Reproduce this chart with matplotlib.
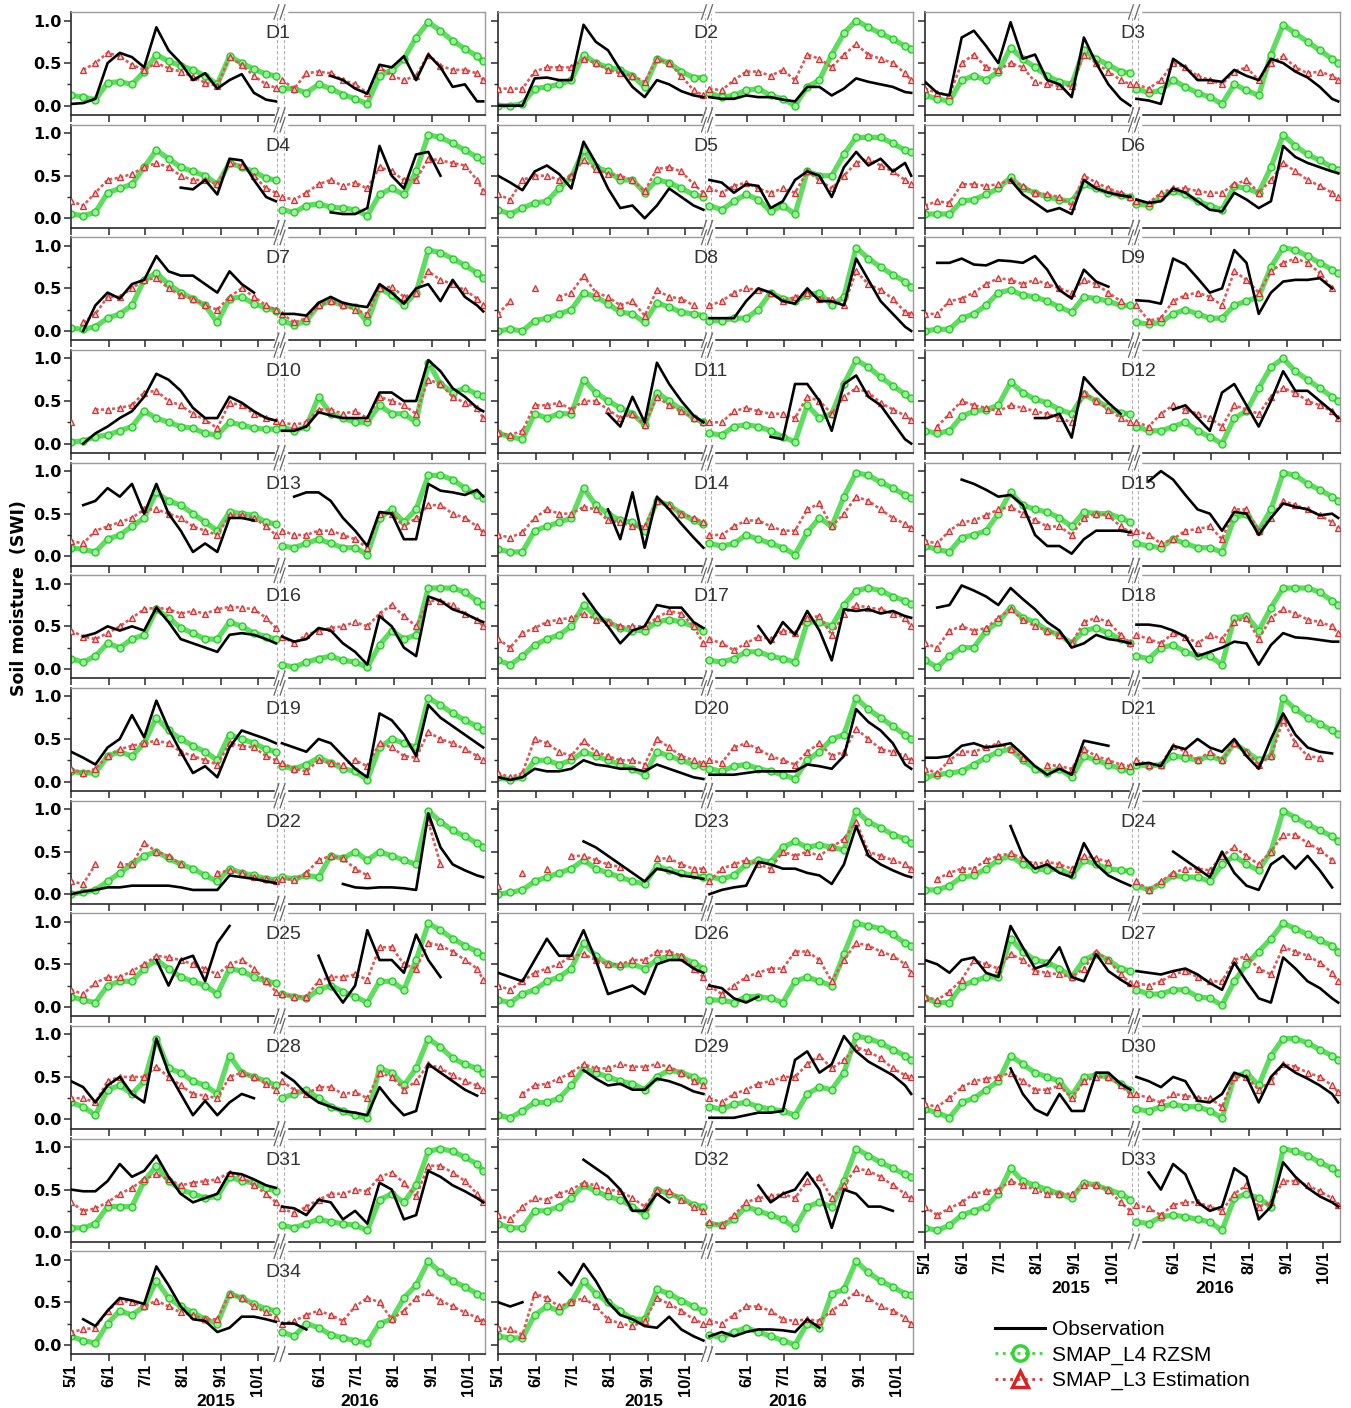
import numpy as np
import matplotlib.pyplot as plt
from matplotlib.lines import Line2D
from matplotlib.transforms import blended_transform_factory

N = None  # no value for that date

# sample dates: days after May 1 (10-day steps) for each season
days_2015 = [0, 10, 20, 30, 40, 50, 60, 70, 80, 90, 100, 110, 120, 130, 140, 150, 160, 168]
days_2016 = [0, 10, 20, 30, 40, 50, 60, 70, 80, 90, 100, 110, 120, 130, 140, 150, 160, 165]
ticks_2015 = [0, 31, 61, 92, 123, 153]
ticks_2016 = [31, 61, 92, 123, 153]
tick_labels_2015 = ["5/1", "6/1", "7/1", "8/1", "9/1", "10/1"]
tick_labels_2016 = ["6/1", "7/1", "8/1", "9/1", "10/1"]

# soil moisture (SWI x 100): first 18 values = 2015, last 18 = 2016
obs_d1 = [2, 3, 8, 50, 62, 57, 45, 92, 65, 50, 30, 38, 20, 30, 37, 15, 7, 5,
          N, N, N, N, 35, 30, 20, 14, 48, 45, 58, 30, 60, 45, 22, 25, 5, 5]
l4_d1 = [12, 10, 7, 27, 28, 25, 40, 60, 52, 47, 42, 35, 25, 58, 50, 43, 37, 35,
         20, 20, 15, 25, 20, 13, 8, 2, 35, 42, 55, 80, 98, 88, 76, 67, 58, 52]
l3_d1 = [N, 42, 50, 62, 58, 48, 42, 50, 44, 40, 34, 27, 23, 57, 48, 35, 25, 21,
         30, 20, 38, 40, 38, 30, 25, 15, 45, 35, 30, 35, 60, 47, 42, 42, 38, 30]

obs_d2 = [0, 0, 0, 32, 33, 30, 30, 95, 75, 65, 42, 22, 10, 30, 25, 17, 12, 10,
          10, 8, 8, 12, 10, 10, 7, 5, 22, 22, 12, 20, 32, 28, 25, 22, 16, 15]
l4_d2 = [0, 0, 2, 20, 22, 25, 30, 60, 50, 45, 42, 35, 22, 55, 50, 40, 33, 33,
         15, 10, 12, 18, 20, 12, 8, 0, 22, 30, 60, 85, 100, 92, 85, 78, 70, 67]
l3_d2 = [20, 20, 20, 40, 45, 45, 45, 55, 50, 42, 38, 35, 28, 55, 50, 35, 18, 12,
         20, 18, 30, 40, 40, 35, 42, 30, 60, 55, 45, 60, 72, 60, 55, 50, 38, 30]

obs_d3 = [28, 15, 12, 80, 88, 70, 50, 98, 55, 60, 30, 25, 10, 80, 50, 25, 8, 0,
          8, 6, 2, 55, 45, 30, 30, 28, 42, 35, 30, 55, 50, 40, 33, 22, 8, 5]
l4_d3 = [12, 8, 5, 30, 35, 30, 40, 68, 55, 45, 35, 28, 25, 65, 55, 48, 40, 38,
         20, 15, 18, 30, 22, 15, 10, 2, 25, 18, 12, 60, 95, 85, 75, 65, 55, 50]
l3_d3 = [20, 15, 12, 50, 60, 45, 42, 50, 45, 28, 25, 23, 23, 60, 50, 40, 30, 25,
         25, 20, 30, 50, 45, 35, 30, 25, 40, 45, 30, 50, 58, 45, 38, 40, 35, 30]

obs_d4 = [N, N, N, N, N, N, N, N, N, 36, 34, 45, 28, 70, 68, 45, 25, 20,
          N, N, 1, N, 7, 5, 5, 12, 85, 50, 35, 75, 78, 50, N, N, N, N]
l4_d4 = [5, 3, 7, 30, 35, 40, 60, 80, 70, 60, 55, 50, 40, 65, 60, 55, 47, 45,
         10, 7, 15, 17, 13, 12, 10, 3, 28, 35, 28, 55, 98, 95, 88, 80, 72, 68]
l3_d4 = [20, 15, 30, 45, 48, 52, 60, 65, 60, 50, 45, 45, 40, 65, 62, 50, 35, 30,
         25, 22, 30, 40, 45, 38, 42, 35, 60, 55, 45, 45, 70, 68, 65, 62, 45, 32]

obs_d5 = [50, 42, 33, 55, 62, 52, 35, 90, 65, 35, 12, 15, 0, 15, 35, 25, 15, 10,
          45, 42, 30, 40, 38, 12, 20, 45, 55, 50, 25, 60, 78, 62, 70, 55, 65, 50]
l4_d5 = [10, 5, 12, 18, 20, 35, 48, 80, 60, 55, 45, 45, 30, 45, 42, 35, 28, 25,
         15, 10, 20, 28, 22, 8, 15, 5, 55, 50, 50, 75, 95, 95, 95, 88, 80, 78]
l3_d5 = [28, 22, 45, 50, 50, 45, 50, 68, 58, 52, 50, 45, 32, 58, 60, 55, 40, 30,
         35, 30, 38, 42, 35, 30, 35, 30, 55, 45, 35, 50, 65, 70, 62, 55, 45, 40]

obs_d6 = [N, N, N, N, N, N, N, 45, 28, 18, 8, 12, 5, 45, 35, 30, 27, 25,
          22, 18, 20, 35, 30, 20, 10, 8, 30, 22, 12, 20, 85, 72, 65, 60, 55, 53]
l4_d6 = [5, 5, 5, 20, 22, 28, 35, 48, 35, 30, 25, 22, 20, 40, 35, 30, 27, 25,
         17, 15, 25, 32, 28, 20, 15, 10, 38, 35, 30, 60, 98, 85, 75, 68, 60, 57]
l3_d6 = [15, 20, 18, 40, 40, 38, 40, 45, 38, 30, 28, 25, 15, 50, 42, 35, 30, 25,
         20, 18, 30, 35, 35, 32, 30, 30, 40, 45, 30, 45, 65, 55, 45, 38, 30, 25]

obs_d7 = [N, 0, 30, 45, 38, 55, 60, 88, 70, 65, 65, 55, 45, 70, 55, 45, N, N,
          20, 20, 18, 33, 40, 33, 30, 28, 55, 45, 32, 50, 55, 35, 60, 40, 30, 23]
l4_d7 = [3, 2, 5, 15, 20, 30, 60, 68, 55, 45, 38, 30, 10, 38, 40, 32, 27, 24,
         12, 7, 12, 30, 35, 30, 28, 10, 50, 42, 30, 45, 95, 92, 85, 77, 68, 62]
l3_d7 = [N, 10, 20, 40, 40, 50, 60, 62, 50, 42, 38, 30, 25, 40, 50, 40, 30, 25,
         20, 10, 15, 30, 35, 30, 25, 20, 50, 52, 40, 45, 70, 60, 55, 48, 38, 30]

obs_d8 = [N, N, N, N, N, N, N, N, N, N, N, N, N, N, N, N, N, N,
          15, 15, 15, 35, 50, 45, 35, 32, 50, 35, 35, 30, 85, 60, 35, 20, 5, 0]
l4_d8 = [0, 2, 0, 12, 15, 20, 25, 45, 40, 32, 22, 20, 10, 33, 28, 22, 20, 18,
         12, 12, 15, 15, 25, 45, 38, 35, 42, 45, 30, 40, 98, 85, 75, 66, 58, 52]
l3_d8 = [20, 35, N, 50, N, 40, 45, 65, 45, 40, 30, 35, 18, 48, 40, 38, 30, N,
         30, 35, 45, 50, 48, 45, 35, 40, 45, 38, 38, 30, 70, 55, 48, 38, 22, 20]

obs_d9 = [N, 80, 80, 85, 78, 77, 83, 82, 80, 88, 72, 48, 38, 72, 58, 52, N, N,
          36, 35, 32, 85, 78, 62, 45, 50, 95, 80, 20, 45, 58, 60, 60, 62, 50, N]
l4_d9 = [0, 2, 2, 15, 20, 30, 45, 48, 42, 40, 35, 28, 22, 40, 38, 35, 30, 30,
         10, 8, 10, 20, 25, 20, 15, 15, 30, 35, 40, 75, 98, 95, 88, 80, 72, 68]
l3_d9 = [20, 20, 35, 38, 45, 55, 62, 60, 55, 60, 55, 50, 45, 60, 55, 45, 35, N,
         30, 12, 15, 35, 42, 45, 40, 30, 70, 60, 45, 70, 80, 85, 80, 68, 50, N]

obs_d10 = [N, 0, 12, 20, 30, 38, 55, 82, 75, 62, 42, 30, 30, 55, 48, 38, 30, 27,
           15, 15, 20, 37, 33, 30, 30, 30, 60, 60, 50, 50, 98, 85, 65, 55, 42, 38]
l4_d10 = [2, 3, 8, 10, 15, 20, 38, 30, 25, 20, 18, 12, 10, 25, 22, 18, 17, 17,
          20, 15, 20, 55, 35, 30, 25, 25, 45, 35, 35, 25, 95, 70, 60, 65, 58, 56]
l3_d10 = [25, N, 40, 40, 42, 45, 60, 62, 50, 45, 35, 28, 18, 48, 45, 35, 30, 27,
          25, 22, 25, 40, 40, 35, 38, 30, 55, 50, 45, 35, 75, 70, 55, 48, 42, 30]

obs_d11 = [N, N, N, N, N, N, N, N, N, 35, 20, 55, 25, 95, 70, 50, 33, 25,
           N, N, N, N, N, 8, 5, 70, 70, 50, 15, 70, 80, 55, 45, 25, 5, 0]
l4_d11 = [12, 8, 5, 35, 30, 35, 35, 75, 60, 50, 42, 35, 22, 60, 50, 40, 30, 25,
          12, 10, 20, 22, 20, 15, 8, 2, 45, 30, 35, 70, 98, 90, 78, 68, 58, 53]
l3_d11 = [12, 10, 15, 45, 45, 48, 40, 50, 50, 40, 30, 35, 22, 55, 45, 38, 30, 25,
          25, 25, 38, 42, 38, 35, 35, 30, 55, 50, 35, 55, 65, 60, 48, 40, 33, 28]

obs_d12 = [N, N, N, N, N, N, N, N, N, 30, 30, 35, 7, 78, 62, 48, 35, N,
           N, N, N, 40, 45, 30, 15, 60, 70, 45, 20, 50, 85, 62, 62, 50, 38, 30]
l4_d12 = [15, 12, 15, 32, 38, 40, 45, 72, 60, 52, 48, 40, 35, 58, 50, 43, 36, 35,
          20, 15, 15, 20, 25, 15, 8, 0, 30, 38, 65, 90, 100, 85, 75, 65, 55, 50]
l3_d12 = [N, 20, 35, 50, 45, 42, 38, 45, 42, 38, 35, 30, 25, 60, 50, 40, 30, 25,
          25, 20, 35, 45, 40, 35, 30, 20, 45, 40, 35, 55, 65, 60, 50, 45, 38, 30]

obs_d13 = [N, 60, 65, 80, 70, 85, 50, 85, 50, 30, 5, 15, 5, 45, 45, 42, N, N,
           N, 70, 75, 75, 65, 45, 30, 12, 52, 50, 20, 20, 85, 77, 75, 72, 78, 70]
l4_d13 = [10, 8, 5, 20, 25, 35, 45, 75, 65, 60, 50, 40, 30, 52, 50, 48, 40, 38,
          12, 10, 15, 20, 15, 10, 10, 2, 45, 55, 40, 55, 95, 95, 90, 80, 72, 68]
l3_d13 = [18, 15, 30, 35, 40, 45, 55, 55, 50, 45, 35, 30, 25, 48, 48, 45, 35, 25,
          30, 25, 25, 30, 30, 25, 20, 10, 50, 50, 35, 45, 60, 60, 50, 45, 35, 28]

obs_d14 = [N, N, N, N, N, N, N, N, N, 55, 20, 75, 10, 70, 55, 38, 22, 10,
           N, N, N, N, N, N, N, N, N, N, N, N, N, N, N, N, N, N]
l4_d14 = [8, 5, 5, 30, 35, 40, 45, 80, 60, 50, 42, 40, 30, 65, 60, 50, 42, 38,
          15, 12, 15, 25, 20, 15, 10, 2, 28, 45, 35, 70, 98, 95, 87, 80, 72, 68]
l3_d14 = [25, 22, 28, 45, 55, 50, 50, 58, 55, 42, 40, 35, 35, 65, 60, 50, 45, 40,
          25, 25, 35, 42, 42, 35, 30, 30, 55, 62, 35, 50, 70, 65, 55, 45, 38, 33]

obs_d15 = [N, N, N, 90, 85, 78, 70, 72, 60, 25, 12, 12, 3, 20, 30, 30, 30, 28,
           N, 88, 100, 90, 72, 55, 50, 30, 52, 50, 25, 45, 62, 58, 55, 48, 50, 45]
l4_d15 = [12, 8, 5, 22, 25, 30, 50, 75, 60, 55, 52, 45, 35, 52, 50, 50, 45, 40,
          15, 12, 10, 20, 15, 10, 10, 5, 45, 50, 30, 55, 98, 95, 85, 78, 70, 65]
l3_d15 = [18, 15, 30, 40, 42, 48, 55, 58, 50, 42, 35, 35, 25, 45, 50, 48, 35, 28,
          30, 25, 15, 20, 30, 32, 35, 20, 55, 55, 30, 45, 65, 60, 55, 48, 40, 33]

obs_d16 = [N, 38, 42, 50, 45, 50, 45, 72, 55, 35, 30, 25, 20, 40, 42, 40, 35, 30,
           38, 32, 35, 48, 45, 30, 20, 5, 62, 50, 25, 15, 85, 80, 70, 65, 58, 55]
l4_d16 = [12, 8, 15, 30, 25, 35, 40, 70, 60, 48, 42, 35, 35, 55, 50, 42, 38, 35,
          5, 2, 8, 12, 15, 10, 8, 2, 28, 45, 35, 40, 95, 95, 95, 90, 80, 75]
l3_d16 = [45, 38, 35, 42, 50, 60, 70, 72, 70, 65, 68, 65, 70, 73, 72, 70, 60, 48,
          38, 30, 40, 45, 48, 50, 55, 50, 65, 75, 62, 50, 80, 80, 75, 65, 58, 50]

obs_d17 = [N, N, N, N, N, N, N, 88, 68, 50, 30, 45, 50, 75, 72, 72, 55, 48,
           N, N, N, N, 50, 30, 55, 40, 68, 45, 10, 70, 68, 70, 65, 68, 62, 60]
l4_d17 = [10, 5, 15, 28, 35, 40, 50, 75, 62, 55, 48, 45, 45, 55, 58, 55, 50, 45,
          10, 8, 12, 20, 20, 15, 12, 8, 55, 55, 50, 75, 92, 95, 92, 85, 80, 76]
l3_d17 = [35, 25, 42, 48, 55, 58, 60, 65, 58, 55, 50, 50, 50, 60, 68, 65, 50, 30,
          35, 30, 22, 30, 38, 35, 45, 42, 60, 62, 40, 65, 75, 72, 70, 65, 60, 50]

obs_d18 = [N, 72, 75, 98, 92, 85, 75, 95, 82, 70, 55, 45, 25, 30, 40, 35, 33, 30,
           52, 52, 50, 45, 38, 15, 20, 25, 32, 30, 5, 28, 42, 37, 36, 34, 32, 32]
l4_d18 = [10, 2, 15, 25, 25, 45, 55, 72, 60, 55, 45, 40, 30, 45, 48, 42, 35, 30,
          15, 12, 25, 28, 20, 15, 15, 5, 60, 62, 45, 72, 95, 95, 95, 90, 80, 75]
l3_d18 = [30, 25, 45, 50, 45, 48, 60, 70, 58, 50, 45, 40, 30, 55, 60, 55, 40, 30,
          40, 35, 30, 42, 38, 30, 40, 35, 55, 60, 35, 60, 70, 65, 58, 55, 50, 42]

obs_d19 = [35, 28, 20, 40, 50, 78, 52, 95, 62, 35, 10, 18, 5, 40, 60, 55, 50, 45,
           45, 40, 35, 50, 45, 30, 15, 5, 80, 72, 55, 30, 90, 75, 65, 55, 45, 40]
l4_d19 = [12, 10, 10, 30, 35, 30, 45, 75, 60, 50, 42, 35, 25, 55, 50, 45, 38, 35,
          18, 15, 20, 28, 22, 15, 12, 2, 40, 50, 45, 40, 98, 90, 80, 72, 65, 60]
l3_d19 = [15, 10, 15, 30, 38, 42, 45, 48, 45, 35, 30, 25, 20, 45, 42, 40, 30, 25,
          22, 15, 12, 25, 22, 20, 25, 18, 45, 40, 30, 28, 58, 50, 45, 38, 30, 25]

obs_d20 = [5, 2, 5, 15, 12, 12, 15, 25, 20, 18, 15, 15, 12, 20, 15, 10, 5, 3,
           8, 8, 8, 10, 12, 12, 12, 12, 20, 18, 15, 30, 85, 70, 60, 45, 20, 15]
l4_d20 = [5, 2, 5, 25, 25, 20, 25, 35, 30, 25, 20, 15, 8, 35, 30, 25, 20, 18,
          15, 12, 18, 20, 15, 12, 8, 3, 25, 35, 50, 55, 98, 85, 75, 65, 55, 50]
l3_d20 = [10, 5, 10, 50, 45, 35, 30, 48, 35, 30, 25, 25, 20, 50, 40, 30, 25, 22,
          25, 22, 40, 45, 38, 30, 25, 20, 35, 45, 30, 35, 62, 50, 38, 35, 30, 25]

obs_d21 = [28, 28, 30, 42, 45, 40, 42, 45, 32, 18, 8, 15, 8, 48, 45, 42, N, N,
           20, 22, 18, 42, 38, 50, 40, 35, 50, 30, 15, 50, 80, 55, 40, 35, 33, N]
l4_d21 = [5, 8, 10, 12, 20, 28, 35, 38, 25, 15, 10, 15, 5, 30, 25, 20, 15, 12,
          20, 18, 20, 30, 28, 25, 30, 25, 45, 35, 25, 30, 98, 85, 75, 68, 60, 56]
l3_d21 = [15, 10, 25, 35, 35, 40, 45, 38, 28, N, 20, 18, 15, 38, 30, 25, 20, 18,
          25, 20, 20, 42, 35, 25, 35, 25, 45, 35, 20, 30, 72, 45, 30, 28, N, N]

obs_d22 = [0, 3, 5, 8, 8, 10, 10, 10, 10, 8, 5, 5, 5, 22, 20, 18, 15, 13,
           N, N, N, N, N, 12, 8, 7, 8, 8, 7, 5, 95, 55, 35, 28, 22, 20]
l4_d22 = [0, 2, 5, 15, 25, 35, 45, 50, 42, 35, 30, 22, 15, 30, 25, 22, 18, 17,
          20, 18, 22, 20, 45, 42, 50, 40, 50, 45, 40, 35, 98, 85, 75, 68, 60, 56]
l3_d22 = [15, 12, 35, N, 35, 35, 60, 50, 45, 35, N, N, 25, 28, 25, 20, 18, 15,
          18, 17, 25, 40, 45, 42, 30, 22, N, N, N, N, 85, 35, N, N, N, N]

obs_d23 = [N, N, N, N, N, N, N, 62, 55, 45, 35, 25, 15, 30, 27, 22, 20, 18,
           0, 5, 8, 10, 38, 35, 30, 30, 25, 22, 12, 35, 80, 45, 35, 28, 22, 20]
l4_d23 = [0, 2, 5, 15, 20, 25, 30, 40, 30, 25, 20, 15, 12, 33, 28, 25, 22, 20,
          20, 18, 22, 35, 40, 38, 55, 62, 55, 58, 55, 52, 98, 85, 78, 70, 65, 60]
l3_d23 = [10, N, 25, N, 30, N, 45, 45, 40, 35, 32, N, N, 42, 42, 35, 30, 30,
          15, 30, 35, 40, 35, 30, 50, 45, 50, 45, 55, 65, 85, 50, 45, 40, 35, 30]

obs_d24 = [N, N, N, N, N, N, N, 80, 45, 30, 35, 25, 20, 60, 35, 22, 15, 10,
           N, N, N, 50, 40, 30, 20, 50, 25, 10, 5, 35, 45, 30, 45, 28, 8, N]
l4_d24 = [5, 5, 10, 20, 22, 30, 40, 45, 35, 30, 28, 30, 22, 40, 35, 30, 28, 27,
          10, 5, 12, 22, 20, 20, 15, 35, 45, 35, 28, 50, 98, 90, 82, 75, 68, 62]
l3_d24 = [N, 18, 25, 30, 30, 40, 45, 48, 42, 35, 38, 35, 30, 45, 42, 38, N, N,
          15, 5, 15, 25, 30, 30, 28, 45, 55, 45, 35, 50, 70, 70, 60, 52, 40, N]

obs_d25 = [N, N, N, N, N, N, N, 55, 25, 55, 60, 30, 75, 95, N, N, N, N,
           N, N, N, 60, 25, 5, 25, 90, 55, 55, 40, 85, 55, 35, N, N, N, N]
l4_d25 = [12, 8, 5, 25, 30, 30, 45, 55, 45, 35, 30, 25, 15, 45, 42, 35, 30, 28,
          15, 12, 10, 20, 25, 18, 12, 5, 30, 30, 20, 55, 98, 90, 80, 72, 65, 60]
l3_d25 = [20, 15, 28, 35, 35, 42, 50, 60, 58, 55, 50, 45, 38, 50, 55, 45, 30, 18,
          15, 12, 12, 30, 35, 35, 38, 32, 70, 70, 50, 45, 75, 72, 65, 55, 45, 32]

obs_d26 = [40, 35, 30, 55, 80, 60, 60, 90, 55, 15, 20, 25, 15, 50, 55, 55, 45, 40,
           25, 22, 10, 5, 12, N, N, N, N, N, N, N, N, N, N, N, N, N]
l4_d26 = [8, 5, 15, 20, 30, 35, 45, 75, 60, 50, 48, 50, 45, 55, 60, 58, 52, 45,
          8, 8, 5, 12, 12, 10, 5, 30, 35, 30, 25, 62, 98, 95, 92, 85, 75, 72]
l3_d26 = [25, 20, 30, 40, 45, 50, 60, 62, 55, 50, 50, 55, 55, 65, 65, 60, 45, 35,
          25, 15, 25, 35, 40, 45, 45, 65, 65, 55, 30, 55, 75, 72, 65, 60, 50, 40]

obs_d27 = [55, 50, 40, 55, 58, 40, 35, 95, 70, 45, 50, 70, 35, 30, 62, 42, 32, 25,
           42, 40, 38, 42, 45, 38, 28, 20, 52, 30, 10, 5, 58, 45, 30, 22, 10, 5]
l4_d27 = [10, 5, 5, 25, 30, 35, 35, 80, 65, 55, 52, 45, 35, 55, 62, 55, 45, 42,
          20, 15, 15, 20, 20, 12, 10, 2, 30, 50, 65, 80, 98, 92, 85, 78, 72, 65]
l3_d27 = [12, 8, 18, 32, 55, 50, 45, 62, 55, 42, 40, 38, 35, 45, 65, 55, 38, 28,
          28, 25, 30, 38, 42, 35, 30, 30, 55, 60, 45, 38, 70, 65, 60, 52, 40, 30]

obs_d28 = [45, 38, 20, 40, 50, 30, 20, 95, 55, 30, 5, 22, 5, 20, 30, 25, N, N,
           55, 45, 30, 20, 15, 10, 8, 5, 38, 20, 5, 10, 65, 55, 45, 35, 28, N]
l4_d28 = [20, 15, 5, 35, 40, 30, 45, 95, 60, 55, 45, 40, 30, 75, 55, 50, 45, 40,
          25, 30, 35, 25, 15, 10, 5, 2, 60, 55, 40, 60, 95, 85, 72, 65, 60, 55]
l3_d28 = [25, 25, 20, 45, 50, 50, 50, 62, 50, 40, 30, 28, 25, 50, 55, 50, 42, 35,
          45, 35, 30, 38, 38, 30, 32, 25, 55, 50, 35, 45, 65, 60, 52, 45, 40, 35]

obs_d29 = [N, N, N, N, N, N, N, 58, 48, 40, 42, 35, 35, 48, 45, 40, 33, 30,
           2, 2, 2, 5, 8, 8, 10, 70, 80, 55, 65, 98, 80, 68, 60, 52, 40, 30]
l4_d29 = [5, 2, 10, 20, 20, 25, 40, 60, 55, 50, 45, 42, 35, 50, 58, 55, 50, 45,
          15, 12, 18, 20, 15, 12, 10, 5, 30, 38, 35, 55, 98, 95, 90, 82, 75, 70]
l3_d29 = [N, N, 30, 40, 42, 48, 55, 65, 60, 60, 65, 62, 62, 65, 62, 55, 45, 40,
          25, 20, 30, 35, 42, 45, 50, 50, 65, 75, 60, 70, 85, 80, 72, 60, 52, 50]

obs_d30 = [N, N, N, N, N, N, N, 60, 30, 12, 5, 30, 10, 10, 55, 55, 42, 35,
           50, 45, 38, 50, 45, 22, 20, 30, 55, 50, 20, 50, 65, 55, 48, 40, 30, 20]
l4_d30 = [12, 8, 2, 20, 25, 35, 45, 75, 65, 55, 50, 45, 28, 50, 52, 50, 42, 35,
          12, 10, 15, 18, 15, 15, 10, 2, 50, 55, 40, 75, 95, 95, 90, 82, 75, 70]
l3_d30 = [18, 15, 25, 38, 45, 48, 50, 55, 45, 35, 35, 40, 25, 45, 50, 50, 40, 30,
          30, 25, 20, 30, 28, 25, 25, 15, 50, 50, 35, 45, 65, 62, 55, 50, 40, 32]

obs_d31 = [50, 48, 48, 60, 80, 65, 72, 90, 65, 45, 35, 40, 45, 70, 68, 62, 55, 52,
           30, 28, 20, 38, 35, 15, 25, 10, 58, 50, 15, 20, 72, 65, 55, 48, 40, 35]
l4_d31 = [5, 5, 10, 30, 30, 30, 60, 78, 60, 50, 45, 40, 42, 65, 60, 58, 52, 48,
          8, 5, 10, 15, 12, 10, 8, 2, 38, 45, 35, 55, 95, 98, 95, 88, 80, 72]
l3_d31 = [35, 25, 28, 35, 45, 52, 62, 68, 62, 55, 58, 60, 62, 70, 65, 55, 45, 35,
          28, 22, 30, 38, 45, 45, 50, 48, 65, 70, 58, 42, 78, 78, 70, 60, 45, 35]

obs_d32 = [N, N, N, N, N, N, N, 85, 75, 65, 50, 25, 25, 45, 35, N, N, N,
           N, N, N, N, 55, 35, 45, 50, 70, 50, 5, 50, 45, 30, 30, 25, N, N]
l4_d32 = [10, 5, 5, 25, 25, 30, 40, 55, 48, 42, 38, 30, 20, 50, 45, 40, 32, 30,
          10, 8, 15, 30, 25, 20, 15, 5, 30, 35, 30, 60, 98, 90, 82, 75, 68, 65]
l3_d32 = [20, 15, 30, 40, 38, 45, 50, 58, 55, 50, 48, 40, 30, 50, 48, 38, 30, 25,
          12, 8, 20, 35, 40, 42, 45, 40, 60, 65, 40, 55, 75, 72, 65, 55, 45, 40]

obs_d33 = [N, N, N, N, N, N, N, N, N, N, N, N, N, N, N, N, N, N,
           N, 70, 50, 80, 68, 35, 25, 30, 75, 65, 15, 30, 82, 65, 52, 42, 35, 30]
l4_d33 = [5, 2, 8, 20, 25, 30, 45, 75, 60, 55, 50, 45, 40, 58, 55, 50, 45, 38,
          12, 10, 18, 20, 18, 15, 12, 2, 40, 45, 40, 30, 98, 95, 90, 82, 75, 70]
l3_d33 = [30, 20, 28, 35, 45, 48, 50, 60, 55, 50, 45, 45, 45, 55, 55, 50, 35, 25,
          32, 28, 20, 32, 35, 35, 30, 25, 45, 55, 30, 35, 60, 60, 55, 48, 40, 32]

obs_d34 = [N, 30, 22, 40, 55, 52, 48, 92, 70, 45, 30, 28, 15, 20, 33, 33, 30, 27,
           25, 25, 18, N, N, N, N, N, N, N, N, N, N, N, N, N, N, N]
l4_d34 = [10, 5, 2, 25, 40, 35, 45, 75, 55, 45, 38, 30, 25, 60, 55, 48, 42, 40,
          15, 10, 25, 20, 12, 8, 5, 2, 25, 30, 55, 70, 98, 85, 75, 68, 60, 57]
l3_d34 = [15, 18, 20, 40, 52, 50, 45, 52, 45, 38, 35, 30, 30, 60, 55, 45, 38, 32,
          25, 28, 35, 40, 35, 28, 45, 55, 50, 30, 40, 55, 62, 52, 45, 38, 32, 28]

# last panel of the middle column carries no site label
obs_d35 = [50, 45, 50, N, N, 85, 70, 95, 75, 50, 35, 30, 22, 20, 33, 18, 10, 5,
           10, 15, 10, 15, 18, 18, 17, 15, 30, 20, N, N, N, N, N, N, N, N]
l4_d35 = [10, 8, 8, 35, 45, 40, 50, 75, 60, 50, 40, 30, 30, 65, 60, 52, 45, 40,
          12, 8, 15, 20, 15, 10, 5, 0, 25, 20, 60, 65, 98, 85, 75, 68, 60, 58]
l3_d35 = [20, 18, 12, 60, 55, 45, 50, 55, 45, 30, 25, 22, 28, 55, 48, 40, 30, 25,
          28, 25, 35, 45, 45, 40, 30, 28, 30, 28, 40, 50, 62, 55, 45, 40, 32, 25]

panels = [
    ("D1", obs_d1, l4_d1, l3_d1), ("D2", obs_d2, l4_d2, l3_d2), ("D3", obs_d3, l4_d3, l3_d3),
    ("D4", obs_d4, l4_d4, l3_d4), ("D5", obs_d5, l4_d5, l3_d5), ("D6", obs_d6, l4_d6, l3_d6),
    ("D7", obs_d7, l4_d7, l3_d7), ("D8", obs_d8, l4_d8, l3_d8), ("D9", obs_d9, l4_d9, l3_d9),
    ("D10", obs_d10, l4_d10, l3_d10), ("D11", obs_d11, l4_d11, l3_d11), ("D12", obs_d12, l4_d12, l3_d12),
    ("D13", obs_d13, l4_d13, l3_d13), ("D14", obs_d14, l4_d14, l3_d14), ("D15", obs_d15, l4_d15, l3_d15),
    ("D16", obs_d16, l4_d16, l3_d16), ("D17", obs_d17, l4_d17, l3_d17), ("D18", obs_d18, l4_d18, l3_d18),
    ("D19", obs_d19, l4_d19, l3_d19), ("D20", obs_d20, l4_d20, l3_d20), ("D21", obs_d21, l4_d21, l3_d21),
    ("D22", obs_d22, l4_d22, l3_d22), ("D23", obs_d23, l4_d23, l3_d23), ("D24", obs_d24, l4_d24, l3_d24),
    ("D25", obs_d25, l4_d25, l3_d25), ("D26", obs_d26, l4_d26, l3_d26), ("D27", obs_d27, l4_d27, l3_d27),
    ("D28", obs_d28, l4_d28, l3_d28), ("D29", obs_d29, l4_d29, l3_d29), ("D30", obs_d30, l4_d30, l3_d30),
    ("D31", obs_d31, l4_d31, l3_d31), ("D32", obs_d32, l4_d32, l3_d32), ("D33", obs_d33, l4_d33, l3_d33),
    ("D34", obs_d34, l4_d34, l3_d34), ("", obs_d35, l4_d35, l3_d35),
]
bottom_panels = {"D33", "D34", ""}

OFF = 173          # where the 2016 season starts on the shared axis
x_all = np.concatenate([days_2015, [np.nan], OFF + np.array(days_2016)])


def series(vals, name):
    assert len(vals) == 36, name
    v = np.array([np.nan if a is None else a / 100 for a in vals], dtype=float)
    return np.concatenate([v[:18], [np.nan], v[18:]])


W, H = 1351, 1408
fig = plt.figure(figsize=(W / 100, H / 100), dpi=100)

col_left = [71, 498, 925]
col_width = [414, 415, 415]
ax_h = 103

GREEN = "#3ad63a"
RED = "#d23a3a"
DARK = "#2a2a2a"

for i, (name, obs, l4, l3) in enumerate(panels):
    col, row = i % 3, i // 3
    top = 12 + 112.65 * row
    ax = fig.add_axes([col_left[col] / W, 1 - (top + ax_h) / H, col_width[col] / W, ax_h / H])

    g = series(l4, name)
    r = series(l3, name)
    # daily markers in the source overlap into bands; a broad line under the markers mimics that
    ax.plot(x_all, g, color="#4fda4f", lw=3.8, alpha=0.9, solid_capstyle="round", zorder=2)
    ax.plot(x_all, g, ls="none", marker="o", ms=5, mfc="#9cef9c", mec="#2ccc2c", mew=1.0, zorder=2)
    ax.plot(x_all, r, color="#dc5a5a", lw=1.9, ls=(0, (1.2, 0.9)), zorder=3)
    ax.plot(x_all, r, ls="none", marker="^", ms=5, mfc="#f7caca", mec="#cf3333", mew=0.9, zorder=3)
    ax.plot(x_all, series(obs, name), color="black", lw=1.9, zorder=4)

    ax.set_xlim(0, 339.5)
    ax.set_ylim(-0.11, 1.1)

    for xv in (169, 174.5):
        ax.axvline(xv, color="#b0b0b0", ls=(0, (3, 2)), lw=0.8, zorder=1)

    # axis break marks on the bottom and top frame
    tr = blended_transform_factory(ax.transData, ax.transAxes)
    for yb in (0, 1):
        ax.plot([168.5, 176], [yb, yb], color="white", lw=2.5, transform=tr, clip_on=False, zorder=5)
        for x0 in (166.5, 171.5):
            ax.plot([x0, x0 + 4], [yb - 0.07, yb + 0.07], color="#666666", lw=0.9,
                    transform=tr, clip_on=False, zorder=6)

    for side in ("top", "right"):
        ax.spines[side].set_color("#9a9a9a")
        ax.spines[side].set_linewidth(1.0)
    for side in ("bottom", "left"):
        ax.spines[side].set_color(DARK)
        ax.spines[side].set_linewidth(1.2)

    ax.set_xticks(ticks_2015 + [OFF + t for t in ticks_2016])
    ax.set_yticks([0, 0.5, 1.0])
    ax.set_yticks([0.25, 0.75], minor=True)
    ax.tick_params(axis="both", which="major", direction="out", length=5, width=1.1, color=DARK)
    ax.tick_params(axis="y", which="minor", direction="out", length=3, width=1.0, color=DARK)

    if col == 0:
        ax.set_yticklabels(["0.0", "0.5", "1.0"], fontsize=11.5, fontweight="bold",
                           family="DejaVu Sans")
        ax.tick_params(axis="y", pad=2)
    else:
        ax.set_yticklabels([])

    if name in bottom_panels:
        ax.set_xticklabels(tick_labels_2015 + tick_labels_2016, rotation=90, fontsize=12,
                           fontweight="bold", family="Liberation Sans")
        ax.tick_params(axis="x", pad=2)
        for xt, yr in ((119, "2015"), (237, "2016")):
            ax.text(xt, -0.455, yr, transform=tr, ha="center", va="center", fontsize=12.5,
                    fontweight="bold", family="Liberation Sans")
    else:
        ax.set_xticklabels([])

    if name:
        ax.text(0.47, 0.79, name, transform=ax.transAxes, ha="left", va="center",
                fontsize=14, color="#333333", family="Liberation Sans", zorder=7)

fig.text(19 / W, 1 - 598 / H, "Soil moisture  (SWI)", rotation=90, ha="center", va="center",
         fontsize=12.5, fontweight="bold", family="DejaVu Sans")

handles = [
    Line2D([], [], color="black", lw=2.2),
    Line2D([], [], color=GREEN, ls=":", lw=2, marker="o", ms=11, mfc="none", mec="#33d433", mew=2.5),
    Line2D([], [], color=RED, ls=":", lw=2, marker="^", ms=11, mfc="none", mec="#dd2020", mew=2.5),
]
fig.legend(handles, ["Observation", "SMAP_L4 RZSM", "SMAP_L3 Estimation"],
           loc="upper left", bbox_to_anchor=(985 / W, 1 - 1310 / H), frameon=False,
           borderpad=0, handlelength=2.4, handletextpad=0.3, labelspacing=0.3,
           prop={"family": "Liberation Sans", "size": 15}, numpoints=1)

fig.savefig("out.png", dpi=100)
